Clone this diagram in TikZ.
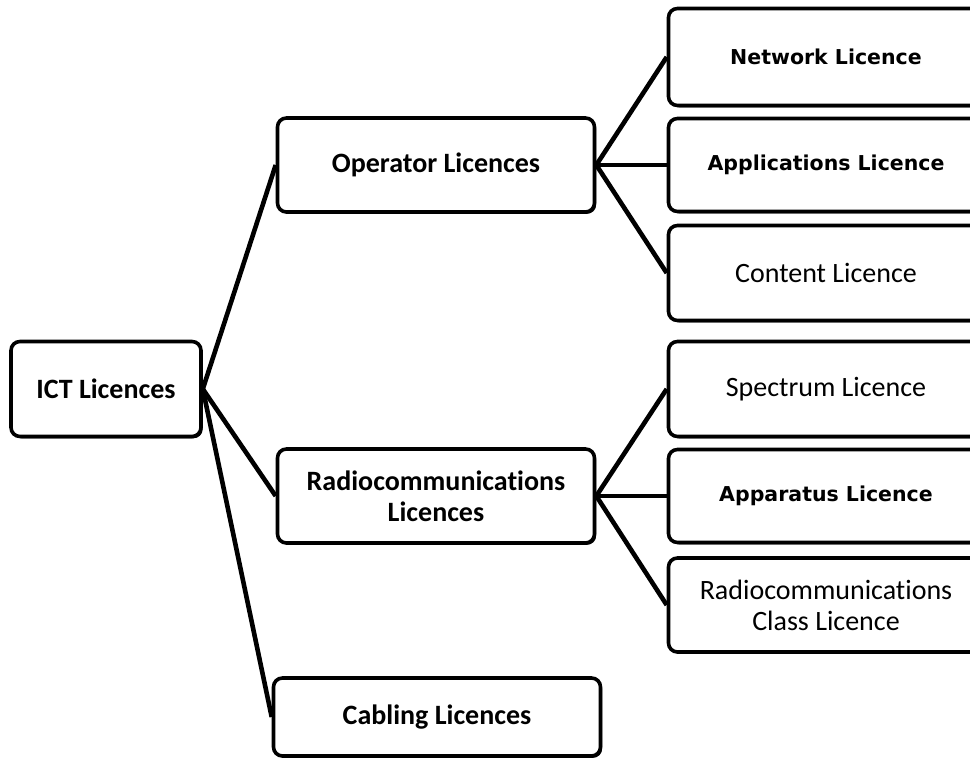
\documentclass[tikz,border=0pt]{standalone}
\usepackage{fontspec}
\setmainfont{Carlito}[Ligatures=NoCommon]
\newfontfamily\verdfont{DejaVu Sans}
\usetikzlibrary{shadows}
\begin{document}
\begin{tikzpicture}[x=1pt,y=-1pt,
  licbox/.style={draw,line width=3.6pt,rounded corners=9pt,fill=white,
    align=center,font=\fontsize{28}{31}\selectfont\bfseries,inner sep=0pt,
    drop shadow={shadow xshift=1.6pt,shadow yshift=-1.8pt,opacity=1,fill=black}},
  verd/.style={font=\verdfont\fontsize{20.5}{24}\selectfont\bfseries},
  link/.style={line width=4.6pt}]
\useasboundingbox (0,0) rectangle (970,762);
\clip (0,0) rectangle (970,762);
% left part
\node[licbox,minimum width=190pt,minimum height=95pt] (ict) at (106,389) {ICT Licences};
\node[licbox,minimum width=317pt,minimum height=94pt] (oper) at (436,165) {Operator Licences};
\node[licbox,minimum width=317pt,minimum height=94pt] (radio) at (436,496) {Radiocommunications\\Licences};
\node[licbox,minimum width=327pt,minimum height=78pt] (cab) at (437,717) {Cabling Licences};
% right part
\node[licbox,verd,minimum width=315pt,minimum height=97pt] (net) at (826,57) {Network Licence};
\node[licbox,verd,minimum width=315pt,minimum height=93pt] (app) at (826,165) {Applications Licence};
\node[licbox,minimum width=315pt,minimum height=95pt] (cont) at (826,273) {\mdseries Content Licence};
\node[licbox,minimum width=315pt,minimum height=95pt] (spec) at (826,389) {\mdseries Spectrum Licence};
\node[licbox,verd,minimum width=315pt,minimum height=93pt] (appa) at (826,496) {Apparatus Licence};
\node[licbox,minimum width=315pt,minimum height=94pt] (rcl) at (826,605) {\mdseries Radiocommunications\\\mdseries Class Licence};
% connectors
\foreach \X in {oper,radio,cab}
  \draw[link] (ict.east) -- (\X.west);
\foreach \X in {net,app,cont}
  \draw[link] (oper.east) -- (\X.west);
\foreach \X in {spec,appa,rcl}
  \draw[link] (radio.east) -- (\X.west);
\end{tikzpicture}
\end{document}
